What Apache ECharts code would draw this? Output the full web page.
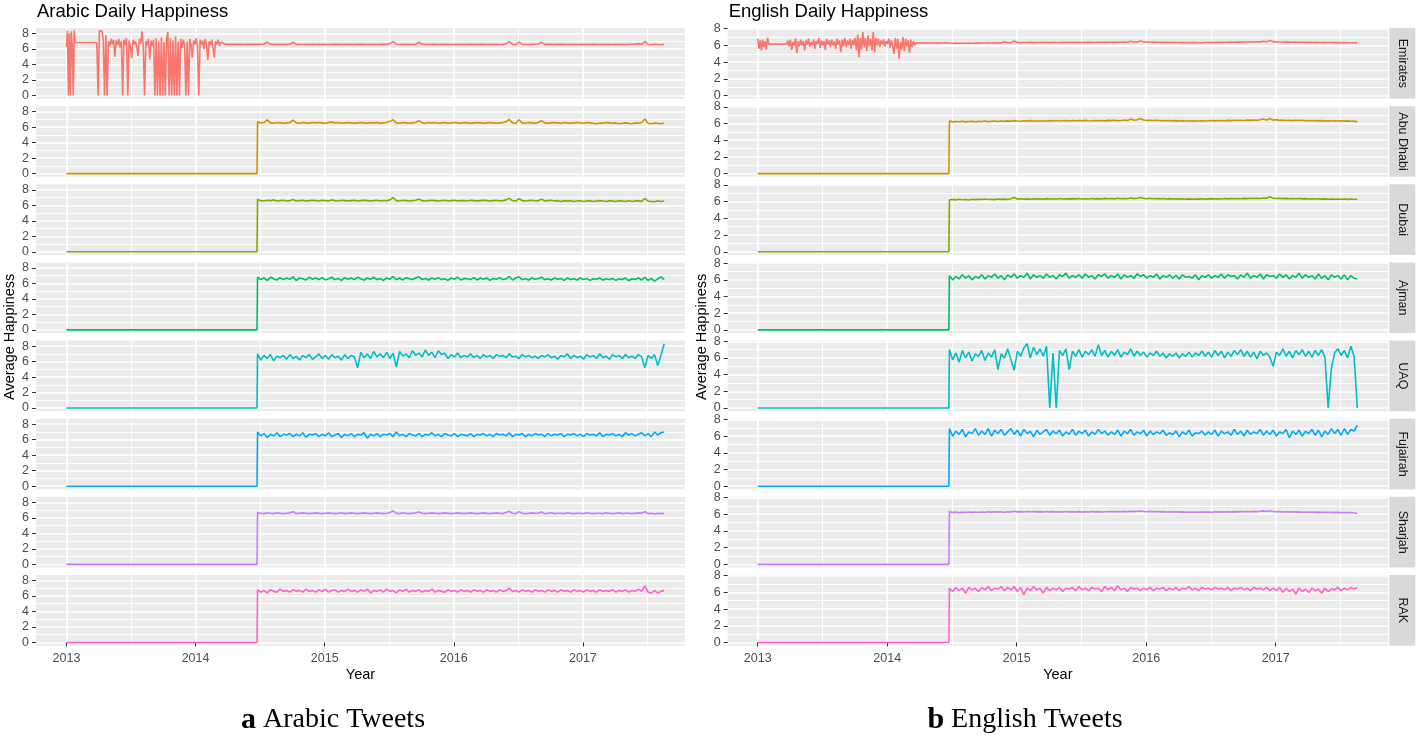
<!DOCTYPE html>
<html><head><meta charset="utf-8">
<script src="https://cdn.jsdelivr.net/npm/echarts@6/dist/echarts.min.js"></script>
<style>html,body{margin:0;padding:0;background:#fff}#c{width:1419px;height:737px}</style>
</head><body><div id="c"></div>
<script>
// ---------- categories / ticks ----------
const regions = ['Emirates','Abu Dhabi','Dubai','Ajman','UAQ','Fujairah','Sharjah','RAK'];
const colors = ['#F8766D','#CD9600','#7CAE00','#00BE67','#00BFC4','#00A9FF','#C77CFF','#FF61CC'];
const yearTicks = [2013,2014,2015,2016,2017];
const halfYearTicks = [2013.5,2014.5,2015.5,2016.5,2017.5];
const yTicks = [0,2,4,6,8];
const yMinorTicks = [1,3,5,7];
const panelTitles = ['Arabic Daily Happiness','English Daily Happiness'];
const captions = [['a','Arabic Tweets'],['b','English Tweets']];

// ---------- time sampling ----------
const firstDay = 2013.0;
const zeroEnd = 2014.476;
const postStart = 2014.48;
const postStep = 0.025;

// ---------- Arabic ----------
const emirArEarlyA = [6.3,8.4,0,8.0,0,8.3,6.2,0,8.4,6.85];
const emirArFlat = [6.85];
const emirArEarlyB = [0,8.4,8.4,8.3,7.2,0,7.8,0,7.0,6.4,
7.3,6.6,7.2,5.0,7.1,6.5,7.3,6.2,7.0,0,
7.2,6.5,7.4,0,7.1,6.3,4.8,7.2,6.6,7.0,
6.2,5.1,7.3,6.7,8.3,6.4,0,7.0,6.5,7.3,
4.7,7.1,6.4,7.2,0,7.4,0,7.0,0,7.5,
0,6.9,0,7.2,8.2,0,7.4,0,7.1,0,
7.6,0,7.0,0,7.3,6.1,7.2,6.6,0,7.0,
0,7.3,6.5,4.9,7.1,6.6,7.4,6.3,0,7.2,
6.5,7.1,6.0,7.3,6.6,4.6,7.0,6.5,7.2,6.2,
4.9,7.0,6.6,7.2,6.4,6.9,6.7];
const emirArPost = [6.62,6.6,6.62,6.6,6.62,6.6,6.58,6.6,6.62,6.6,
6.62,6.6,6.65,6.9,6.6,6.62,6.6,6.58,6.62,6.6,
6.62,6.88,6.6,6.62,6.58,6.6,6.62,6.6,6.58,6.62,
6.6,6.62,6.58,6.6,6.62,6.6,6.58,6.6,6.62,6.6,
6.58,6.6,6.62,6.6,6.58,6.62,6.6,6.58,6.6,6.62,
6.6,6.72,6.95,6.62,6.58,6.6,6.62,6.6,6.58,6.6,
6.88,6.62,6.6,6.58,6.62,6.6,6.58,6.6,6.62,6.6,
6.58,6.6,6.62,6.6,6.58,6.6,6.62,6.6,6.58,6.62,
6.6,6.58,6.6,6.62,6.6,6.58,6.6,6.7,6.95,6.6,
6.58,6.9,6.6,6.62,6.58,6.6,6.62,6.65,6.88,6.6,
6.62,6.6,6.58,6.6,6.62,6.6,6.58,6.62,6.6,6.58,
6.6,6.62,6.58,6.6,6.62,6.6,6.58,6.6,6.62,6.6,
6.58,6.6,6.62,6.6,6.58,6.6,6.62,6.65,6.7,6.6,
6.98,6.58,6.56,6.6,6.58,6.56,6.6];
const abuArPost = [6.7,6.55,6.6,6.95,6.55,6.5,6.6,6.55,6.5,6.55,
6.6,6.9,6.55,6.5,6.6,6.55,6.5,6.6,6.55,6.6,
6.55,6.5,6.6,6.65,6.55,6.6,6.5,6.55,6.6,6.55,
6.5,6.55,6.6,6.55,6.5,6.6,6.55,6.6,6.5,6.55,
6.6,6.75,6.95,6.55,6.5,6.6,6.55,6.5,6.55,6.6,
6.85,6.55,6.5,6.6,6.55,6.6,6.5,6.55,6.6,6.5,
6.55,6.6,6.55,6.5,6.6,6.55,6.5,6.55,6.6,6.55,
6.5,6.55,6.6,6.55,6.5,6.55,6.6,6.7,7.0,6.55,
6.5,6.95,6.55,6.5,6.6,6.55,6.5,6.6,6.85,6.55,
6.5,6.55,6.6,6.55,6.5,6.6,6.55,6.5,6.55,6.6,
6.55,6.5,6.6,6.55,6.5,6.45,6.55,6.5,6.6,6.55,
6.5,6.55,6.45,6.5,6.55,6.5,6.45,6.55,6.5,6.6,
7.05,6.5,6.45,6.55,6.5,6.45,6.55];
const dubArPost = [6.75,6.6,6.55,6.65,6.6,6.7,6.55,6.6,6.65,6.55,
6.6,6.75,6.55,6.6,6.65,6.55,6.6,6.65,6.6,6.55,
6.65,6.6,6.55,6.7,6.6,6.55,6.65,6.6,6.55,6.6,
6.65,6.55,6.6,6.65,6.6,6.55,6.6,6.65,6.55,6.6,
6.6,6.7,7.0,6.6,6.55,6.65,6.6,6.55,6.6,6.65,
6.8,6.6,6.55,6.6,6.65,6.6,6.55,6.6,6.65,6.55,
6.6,6.65,6.55,6.6,6.6,6.55,6.65,6.6,6.55,6.6,
6.65,6.6,6.55,6.6,6.65,6.55,6.6,6.7,6.9,6.6,
6.55,6.85,6.6,6.55,6.6,6.65,6.55,6.6,6.8,6.55,
6.6,6.65,6.55,6.6,6.5,6.6,6.55,6.6,6.5,6.55,
6.6,6.5,6.55,6.6,6.5,6.55,6.6,6.55,6.5,6.6,
6.55,6.5,6.6,6.55,6.5,6.6,6.5,6.55,6.6,6.5,
6.9,6.55,6.5,6.45,6.6,6.5,6.55];
const ajmArPost = [6.8,6.5,6.7,6.4,6.8,6.6,6.45,6.75,6.5,6.7,
6.55,6.85,6.4,6.7,6.6,6.45,6.8,6.55,6.7,6.5,
6.75,6.45,6.6,6.8,6.5,6.65,6.4,6.75,6.55,6.7,
6.5,6.8,6.6,6.45,6.7,6.55,6.8,6.5,6.65,6.4,
6.7,6.55,6.9,6.5,6.7,6.45,6.75,6.6,6.5,6.7,
6.85,6.5,6.65,6.45,6.7,6.55,6.75,6.5,6.6,6.4,
6.7,6.55,6.8,6.45,6.65,6.6,6.5,6.75,6.45,6.7,
6.55,6.7,6.4,6.65,6.55,6.75,6.5,6.6,6.9,6.45,
6.7,6.85,6.5,6.6,6.45,6.7,6.55,6.65,6.8,6.5,
6.6,6.45,6.7,6.55,6.65,6.4,6.7,6.5,6.6,6.45,
6.7,6.5,6.65,6.4,6.6,6.55,6.7,6.45,6.6,6.5,
6.65,6.4,6.6,6.5,6.7,6.35,6.6,6.5,6.7,6.45,
6.8,6.4,6.65,6.3,6.6,6.85,6.5];
const uaqArPost = [7.0,6.2,6.8,6.4,6.9,6.1,6.7,6.5,6.8,6.3,
6.9,6.4,6.7,6.2,6.8,6.5,6.9,6.3,6.6,7.0,
6.4,6.8,6.3,6.9,6.5,6.7,6.2,6.9,6.4,6.8,
6.6,5.2,7.2,6.5,7.0,6.4,7.3,6.6,7.0,6.5,
7.2,6.4,7.1,5.3,7.3,6.7,7.0,6.5,7.4,6.8,
7.1,6.6,7.5,6.8,7.2,6.5,7.4,6.9,7.1,6.4,
6.9,6.6,7.1,6.5,6.8,6.6,7.0,6.5,6.8,6.4,
6.9,6.6,6.8,6.4,6.9,6.7,6.8,6.5,7.0,6.6,
6.7,6.4,6.9,6.6,6.8,6.5,6.7,6.4,6.8,6.6,
6.9,6.5,6.7,6.3,6.8,6.6,7.0,6.4,6.8,6.5,
6.7,6.3,6.9,6.6,6.8,6.4,7.0,6.5,6.7,6.3,
6.9,6.6,6.8,6.4,6.9,6.5,6.7,6.4,6.9,6.6,
5.2,6.8,6.4,6.9,5.5,6.8,8.3];
const fujArPost = [7.0,6.5,6.8,6.3,6.7,6.5,6.9,6.4,6.7,6.6,
6.8,6.4,6.7,6.5,6.9,6.3,6.7,6.6,6.8,6.4,
6.7,6.5,6.9,6.4,6.6,6.8,6.3,6.7,6.5,6.8,
6.4,6.7,6.6,6.9,6.2,6.7,6.5,6.8,6.4,6.7,
6.6,6.8,6.4,7.0,6.5,6.7,6.4,6.8,6.6,6.5,
6.8,6.4,6.7,6.6,6.9,6.5,6.7,6.4,6.8,6.6,
6.5,6.8,6.4,6.7,6.6,6.5,6.8,6.4,6.7,6.6,
6.8,6.5,6.7,6.4,6.8,6.6,6.7,6.5,6.9,6.4,
6.7,6.6,6.8,6.4,6.7,6.5,6.8,6.6,6.7,6.4,
6.8,6.5,6.7,6.6,6.8,6.4,6.7,6.6,6.8,6.5,
6.7,6.4,6.8,6.6,6.7,6.5,6.9,6.4,6.7,6.6,
6.8,6.5,6.7,6.4,6.9,6.6,6.8,6.5,6.7,6.9,
6.5,6.8,6.4,7.0,6.6,6.9,7.0];
const shjArPost = [6.7,6.6,6.55,6.65,6.6,6.55,6.65,6.6,6.55,6.6,
6.65,6.8,6.55,6.6,6.65,6.6,6.55,6.6,6.65,6.6,
6.55,6.6,6.65,6.6,6.55,6.6,6.65,6.55,6.6,6.65,
6.6,6.55,6.6,6.65,6.6,6.55,6.6,6.65,6.6,6.55,
6.6,6.7,6.9,6.6,6.55,6.65,6.6,6.55,6.6,6.65,
6.75,6.6,6.55,6.6,6.65,6.6,6.55,6.6,6.65,6.6,
6.55,6.6,6.65,6.6,6.55,6.6,6.65,6.6,6.55,6.6,
6.65,6.6,6.55,6.6,6.65,6.6,6.55,6.7,6.85,6.6,
6.55,6.8,6.6,6.55,6.6,6.65,6.6,6.6,6.75,6.55,
6.6,6.65,6.55,6.6,6.6,6.55,6.65,6.6,6.55,6.6,
6.6,6.55,6.65,6.6,6.55,6.6,6.6,6.55,6.65,6.6,
6.55,6.6,6.65,6.55,6.6,6.6,6.55,6.6,6.65,6.6,
6.8,6.55,6.6,6.5,6.6,6.55,6.6];
const rakArPost = [6.8,6.5,6.7,6.4,6.8,6.6,6.5,6.9,6.6,6.7,
6.5,6.8,6.6,6.7,6.5,6.9,6.6,6.7,6.5,6.8,
6.6,6.9,6.5,6.7,6.8,6.5,6.7,6.6,6.9,6.6,
6.7,6.5,6.8,6.6,6.9,6.4,6.7,6.6,6.8,6.5,
6.9,6.6,6.7,6.4,6.8,6.6,6.9,6.5,6.7,6.6,
6.8,6.5,6.7,6.6,6.9,6.5,6.7,6.6,6.5,6.8,
6.6,6.7,6.5,6.8,6.6,6.7,6.5,6.8,6.6,6.7,
6.5,6.8,6.6,6.7,6.5,6.8,6.6,6.7,7.0,6.6,
6.7,6.5,6.8,6.6,6.7,6.5,6.8,6.6,6.7,6.5,
6.8,6.6,6.7,6.5,6.8,6.6,6.7,6.5,6.8,6.6,
6.7,6.5,6.8,6.6,6.7,6.5,6.8,6.6,6.7,6.6,
6.8,6.5,6.7,6.6,6.8,6.5,6.7,6.6,6.9,6.6,
7.3,6.5,6.4,6.7,6.4,6.6,6.7];

// ---------- English ----------
const emirEnEarlyA = [6.8,5.6,6.6,5.4,6.7,5.8,6.5,5.5,6.9,6.15];
const emirEnFlat = [6.15];
const emirEnEarlyB = [6.6,5.9,6.7,5.5,6.4,6.0,6.8,5.1,6.5,5.9,
6.7,6.0,6.5,5.4,6.6,6.1,6.8,5.8,6.4,6.0,
6.7,5.6,6.5,6.2,6.9,5.7,6.6,6.0,6.5,5.5,
6.8,6.1,6.6,5.8,6.7,6.0,6.5,5.6,6.8,6.1,
6.6,5.2,6.7,5.9,6.9,5.8,6.6,6.0,6.8,5.6,
6.7,6.0,6.9,5.4,7.3,4.6,6.9,5.5,7.6,5.8,
6.9,5.3,7.2,5.9,6.8,5.4,7.6,5.2,6.9,6.0,
6.8,5.8,6.6,6.1,6.7,5.9,6.5,6.2,6.8,5.7,
6.6,5.9,5.0,6.9,5.6,6.8,4.4,6.4,5.5,7.0,
5.3,6.8,5.9,6.6,5.1,6.7,5.8,6.5,6.0,6.3];
const emirEnPost = [6.28,6.3,6.27,6.3,6.28,6.32,6.27,6.3,6.28,6.3,
6.28,6.25,6.27,6.24,6.26,6.25,6.27,6.26,6.28,6.27,
6.29,6.28,6.3,6.29,6.31,6.3,6.32,6.45,6.33,6.31,
6.52,6.34,6.33,6.35,6.34,6.36,6.33,6.35,6.34,6.36,
6.35,6.33,6.36,6.34,6.35,6.37,6.35,6.36,6.34,6.37,
6.36,6.35,6.38,6.36,6.37,6.35,6.38,6.37,6.36,6.38,
6.37,6.36,6.38,6.37,6.39,6.38,6.5,6.4,6.39,6.55,
6.42,6.4,6.38,6.39,6.37,6.38,6.36,6.37,6.35,6.36,
6.34,6.35,6.33,6.34,6.32,6.33,6.34,6.32,6.33,6.35,
6.34,6.36,6.35,6.37,6.36,6.38,6.37,6.39,6.38,6.4,
6.39,6.41,6.4,6.42,6.41,6.43,6.42,6.5,6.44,6.58,
6.45,6.42,6.4,6.41,6.39,6.4,6.38,6.39,6.37,6.38,
6.36,6.37,6.35,6.36,6.34,6.35,6.33,6.34,6.35,6.33,
6.34,6.32,6.33,6.31,6.32,6.31,6.3];
const abuEnPost = [6.3,6.2,6.25,6.22,6.27,6.2,6.24,6.28,6.22,6.26,
6.25,6.3,6.23,6.27,6.29,6.24,6.3,6.27,6.32,6.28,
6.35,6.3,6.27,6.33,6.29,6.35,6.3,6.32,6.28,6.34,
6.3,6.35,6.31,6.36,6.3,6.33,6.37,6.31,6.35,6.33,
6.36,6.32,6.38,6.34,6.31,6.37,6.33,6.36,6.32,6.38,
6.35,6.39,6.34,6.37,6.42,6.36,6.55,6.4,6.45,6.6,
6.42,6.38,6.4,6.36,6.39,6.34,6.37,6.33,6.36,6.32,
6.35,6.31,6.34,6.3,6.33,6.29,6.32,6.3,6.34,6.31,
6.33,6.36,6.32,6.35,6.37,6.33,6.38,6.35,6.39,6.36,
6.4,6.37,6.41,6.38,6.42,6.39,6.45,6.55,6.43,6.6,
6.42,6.45,6.38,6.41,6.36,6.39,6.35,6.4,6.36,6.38,
6.34,6.37,6.33,6.36,6.32,6.35,6.3,6.34,6.31,6.33,
6.3,6.34,6.29,6.32,6.28,6.31,6.2];
const dubEnPost = [6.2,6.28,6.22,6.3,6.24,6.27,6.21,6.29,6.25,6.3,
6.26,6.32,6.27,6.3,6.25,6.33,6.28,6.31,6.27,6.35,
6.5,6.32,6.36,6.3,6.34,6.29,6.36,6.31,6.35,6.3,
6.37,6.32,6.35,6.3,6.38,6.33,6.36,6.31,6.37,6.34,
6.38,6.33,6.36,6.32,6.39,6.34,6.37,6.33,6.4,6.35,
6.38,6.34,6.41,6.36,6.39,6.35,6.45,6.37,6.42,6.5,
6.4,6.36,6.41,6.35,6.39,6.34,6.38,6.33,6.37,6.32,
6.36,6.31,6.35,6.3,6.34,6.29,6.33,6.31,6.35,6.3,
6.34,6.37,6.32,6.36,6.33,6.38,6.34,6.37,6.35,6.39,
6.36,6.4,6.37,6.41,6.38,6.42,6.39,6.45,6.4,6.58,
6.41,6.38,6.42,6.37,6.4,6.36,6.39,6.35,6.38,6.34,
6.37,6.33,6.36,6.32,6.35,6.31,6.34,6.3,6.33,6.29,
6.32,6.3,6.33,6.28,6.31,6.29,6.3];
const ajmEnPost = [6.5,6.0,6.4,6.1,6.6,6.2,6.5,6.0,6.4,6.2,
6.6,6.1,6.5,6.3,6.7,6.2,6.5,6.0,6.6,6.3,
6.7,6.2,6.5,6.3,6.8,6.1,6.6,6.3,6.5,6.2,
6.7,6.3,6.5,6.1,6.6,6.4,6.8,6.2,6.5,6.3,
6.6,6.2,6.7,6.3,6.5,6.1,6.6,6.4,6.7,6.2,
6.5,6.3,6.7,6.1,6.6,6.3,6.5,6.2,6.7,6.4,
6.6,6.2,6.5,6.3,6.7,6.1,6.5,6.3,6.6,6.2,
6.5,6.1,6.6,6.3,6.4,6.2,6.6,6.0,6.5,6.3,
6.6,6.2,6.5,6.3,6.7,6.2,6.6,6.4,6.5,6.1,
6.6,6.3,6.8,6.2,6.5,6.3,6.7,6.1,6.6,6.4,
6.5,6.2,6.7,6.3,6.6,6.1,6.5,6.3,6.8,6.2,
6.6,6.3,6.5,6.1,6.7,6.2,6.5,6.0,6.6,6.3,
6.5,6.1,6.6,6.0,6.5,6.2,6.1];
const uaqEnPost = [7.0,5.8,6.6,5.5,6.9,6.0,6.7,5.6,6.5,6.2,
6.9,5.7,6.6,6.1,7.0,4.6,6.5,6.0,7.1,5.8,
4.5,6.8,6.2,7.2,7.7,6.0,7.3,6.4,7.1,6.2,
7.4,0,6.6,0,6.9,6.3,7.1,4.6,6.8,6.2,
7.0,6.1,6.8,6.4,7.0,6.2,7.6,6.3,6.9,6.1,
6.8,6.3,7.0,6.1,6.7,6.4,7.1,6.2,6.8,6.3,
6.7,6.1,6.6,6.3,6.8,6.2,6.6,6.0,6.5,6.2,
6.6,6.0,6.5,6.2,6.7,6.1,6.6,6.3,6.8,6.2,
6.7,6.1,6.9,6.3,6.8,6.0,6.7,6.2,6.9,6.4,
7.0,6.2,6.8,6.1,6.7,5.9,6.8,6.3,6.6,6.1,
5.0,6.7,6.3,7.1,6.2,6.8,6.0,6.9,6.4,7.0,
6.2,6.8,6.1,6.9,6.3,7.0,6.1,0,4.8,6.6,
7.1,6.3,6.9,6.0,7.4,6.2,0];
const fujEnPost = [6.9,6.0,6.6,6.2,6.8,5.9,6.5,6.3,6.9,6.1,
6.6,6.2,6.9,6.0,6.7,6.3,6.8,6.1,6.5,6.9,
6.2,6.7,6.0,6.8,6.3,6.6,5.9,6.7,6.2,6.5,
6.8,6.1,6.6,6.3,6.7,6.0,6.5,6.2,6.8,6.1,
6.6,6.3,6.7,6.0,6.5,6.2,6.8,6.3,6.6,6.1,
6.5,6.2,6.7,6.0,6.6,6.3,6.8,6.1,6.5,6.3,
6.7,6.0,6.6,6.2,6.5,6.3,6.7,6.1,6.4,6.2,
6.6,5.9,6.5,6.2,6.7,6.0,6.4,6.3,6.6,6.1,
6.5,6.2,6.7,6.0,6.6,6.3,6.5,6.1,6.8,6.2,
6.6,6.0,6.7,6.2,6.5,6.3,6.8,6.1,6.6,6.2,
6.7,6.0,6.5,6.3,6.8,5.8,6.6,6.2,6.7,6.0,
6.6,6.3,6.8,6.1,6.7,5.9,6.6,6.2,6.9,6.3,
6.8,6.1,6.9,6.2,6.8,6.6,7.3];
const shjEnPost = [6.3,6.2,6.25,6.18,6.24,6.2,6.27,6.22,6.26,6.21,
6.27,6.23,6.29,6.25,6.3,6.26,6.28,6.24,6.3,6.27,
6.35,6.28,6.31,6.27,6.33,6.29,6.32,6.28,6.31,6.27,
6.32,6.28,6.31,6.26,6.3,6.27,6.32,6.28,6.3,6.26,
6.31,6.27,6.3,6.26,6.32,6.28,6.31,6.27,6.3,6.29,
6.32,6.28,6.33,6.29,6.34,6.3,6.36,6.31,6.35,6.38,
6.33,6.3,6.34,6.29,6.32,6.28,6.31,6.27,6.3,6.26,
6.29,6.25,6.28,6.24,6.27,6.23,6.26,6.24,6.28,6.25,
6.27,6.24,6.29,6.25,6.28,6.26,6.3,6.27,6.31,6.28,
6.32,6.29,6.33,6.3,6.34,6.31,6.35,6.4,6.33,6.42,
6.32,6.29,6.31,6.27,6.3,6.26,6.29,6.25,6.28,6.24,
6.27,6.23,6.26,6.22,6.25,6.21,6.24,6.2,6.23,6.19,
6.22,6.18,6.21,6.17,6.2,6.15,6.1];
const rakEnPost = [6.5,6.1,6.6,6.2,6.5,5.9,6.6,6.3,6.5,6.1,
6.6,6.3,6.7,6.2,6.5,6.4,6.7,6.2,6.6,6.3,
6.7,6.1,6.6,5.7,6.5,6.2,6.7,6.3,6.5,5.9,
6.6,6.2,6.5,6.3,6.6,6.1,6.5,6.4,6.6,6.2,
6.7,6.3,6.5,6.2,6.6,6.4,6.5,6.1,6.7,6.3,
6.6,6.2,6.8,6.3,6.5,6.1,6.6,6.4,6.5,6.2,
6.5,6.3,6.6,6.2,6.5,6.4,6.6,6.2,6.5,6.3,
6.6,6.2,6.5,6.4,6.7,6.3,6.5,6.2,6.6,6.4,
6.5,6.3,6.6,6.4,6.5,6.3,6.6,6.2,6.5,6.4,
6.6,6.3,6.5,6.2,6.6,6.4,6.5,6.3,6.6,6.2,
6.5,6.2,6.6,6.0,6.5,6.1,6.4,5.8,6.5,6.1,
6.4,6.0,6.5,6.2,6.4,5.9,6.5,6.1,6.4,6.3,
6.6,6.2,6.5,6.3,6.6,6.4,6.6];

// ---------- series assembly (segments: [startYear, stepYears, values]) ----------
const zeroSegs = [[firstDay, 0, [0]], [zeroEnd, 0, [0]]];
const arabicSegs = [
  [[firstDay, 0.0075, emirArEarlyA], [2013.235, 0, emirArFlat], [2013.245, 0.01, emirArEarlyB], [2014.23, postStep, emirArPost]],
  zeroSegs.concat([[postStart, postStep, abuArPost]]),
  zeroSegs.concat([[postStart, postStep, dubArPost]]),
  zeroSegs.concat([[postStart, postStep, ajmArPost]]),
  zeroSegs.concat([[postStart, postStep, uaqArPost]]),
  zeroSegs.concat([[postStart, postStep, fujArPost]]),
  zeroSegs.concat([[postStart, postStep, shjArPost]]),
  zeroSegs.concat([[postStart, postStep, rakArPost]])
];
const englishSegs = [
  [[firstDay, 0.0095, emirEnEarlyA], [2013.224, 0, emirEnFlat], [2013.232, 0.01, emirEnEarlyB], [2014.23, postStep, emirEnPost]],
  zeroSegs.concat([[postStart, postStep, abuEnPost]]),
  zeroSegs.concat([[postStart, postStep, dubEnPost]]),
  zeroSegs.concat([[postStart, postStep, ajmEnPost]]),
  zeroSegs.concat([[postStart, postStep, uaqEnPost]]),
  zeroSegs.concat([[postStart, postStep, fujEnPost]]),
  zeroSegs.concat([[postStart, postStep, shjEnPost]]),
  zeroSegs.concat([[postStart, postStep, rakEnPost]])
];
function buildData(segs) {
  const out = [];
  segs.forEach(([t0, dt, vals]) => vals.forEach((v, i) => out.push([+(t0 + dt * i).toFixed(4), v])));
  return out;
}

// ---------- layout ----------
const FONT = '"Liberation Sans", Arial, sans-serif';
const panels = [
  {left: 36, width: 649, xMin: 2012.764, xMax: 2017.791, yMin: -0.415, yMax: 8.715, segs: arabicSegs, strip: false},
  {left: 727.7, width: 660.3, xMin: 2012.768, xMax: 2017.867, yMin: -0.385, yMax: 8.085, segs: englishSegs, strip: true}
];
const facetTop0 = 28, facetPitch = 78.14, facetH = 70.7;

const grids = [], xAxes = [], yAxes = [], series = [], graphics = [];
panels.forEach((p, pi) => {
  regions.forEach((reg, f) => {
    const g = grids.length;
    const top = facetTop0 + facetPitch * f;
    const bottom = f === regions.length - 1;
    grids.push({left: p.left, width: p.width, top: top, height: facetH, show: true,
      backgroundColor: '#EBEBEB', borderWidth: 0, containLabel: false});
    xAxes.push({gridIndex: g, type: 'value', min: p.xMin, max: p.xMax, position: 'bottom',
      axisLine: {show: false},
      axisTick: {show: bottom, customValues: yearTicks, length: 4, lineStyle: {color: '#333333', width: 1}},
      axisLabel: {show: bottom, customValues: yearTicks, color: '#4D4D4D', fontSize: 12.5, fontFamily: FONT, margin: 6,
        formatter: v => String(Math.round(v))},
      splitLine: {show: true, lineStyle: {color: '#FFFFFF', width: 1.7}}});
    xAxes.push({gridIndex: g, type: 'value', min: p.xMin, max: p.xMax, position: 'top',
      axisLine: {show: false},
      axisTick: {show: false, customValues: halfYearTicks},
      axisLabel: {show: false, customValues: halfYearTicks},
      splitLine: {show: true, lineStyle: {color: '#FFFFFF', width: 0.9}}});
    yAxes.push({gridIndex: g, type: 'value', min: p.yMin, max: p.yMax, position: 'left',
      axisLine: {show: false},
      axisTick: {show: true, customValues: yTicks, length: 4, lineStyle: {color: '#333333', width: 1}},
      axisLabel: {show: true, customValues: yTicks, color: '#4D4D4D', fontSize: 12.5, fontFamily: FONT, margin: 7},
      splitLine: {show: true, lineStyle: {color: '#FFFFFF', width: 1.7}}});
    yAxes.push({gridIndex: g, type: 'value', min: p.yMin, max: p.yMax, position: 'right',
      axisLine: {show: false},
      axisTick: {show: false, customValues: yMinorTicks},
      axisLabel: {show: false, customValues: yMinorTicks},
      splitLine: {show: true, lineStyle: {color: '#FFFFFF', width: 0.9}}});
    series.push({type: 'line', name: reg, xAxisIndex: 2 * g, yAxisIndex: 2 * g,
      data: buildData(p.segs[f]), showSymbol: false, symbol: 'none', animation: false,
      lineStyle: {color: colors[f], width: 1.6}, itemStyle: {color: colors[f]}, z: 5});
    if (p.strip) {
      const sx = p.left + p.width + 1.3, sw = 26;
      graphics.push({type: 'rect', shape: {x: sx, y: top, width: sw, height: facetH},
        style: {fill: '#D9D9D9'}, silent: true});
      graphics.push({type: 'text', x: sx + sw / 2, y: top + facetH / 2, rotation: -Math.PI / 2,
        style: {text: reg, font: '12.5px ' + FONT, fill: '#1A1A1A', align: 'center', verticalAlign: 'middle'}, silent: true});
    }
  });
  const lastBottom = facetTop0 + facetPitch * (regions.length - 1) + facetH;
  graphics.push({type: 'text', x: p.left + 1, y: 12,
    style: {text: panelTitles[pi], font: '18.5px ' + FONT, fill: '#000000', align: 'left', verticalAlign: 'middle'}});
  graphics.push({type: 'text', x: p.left + p.width / 2, y: 675,
    style: {text: 'Year', font: '14.5px ' + FONT, fill: '#000000', align: 'center', verticalAlign: 'middle'}});
  graphics.push({type: 'text', x: p.left - 26, y: (facetTop0 + lastBottom) / 2, rotation: Math.PI / 2,
    style: {text: 'Average Happiness', font: '14.5px ' + FONT, fill: '#000000', align: 'center', verticalAlign: 'middle'}});
  graphics.push({type: 'text', x: pi === 0 ? 333 : 1025, y: 720,
    style: {text: '{b|' + captions[pi][0] + '} ' + captions[pi][1], font: '28px "Liberation Serif", "DejaVu Serif", serif',
      fill: '#000000', align: 'center', verticalAlign: 'middle',
      rich: {b: {fontWeight: 'bold', fontSize: 30, fontFamily: '"Liberation Serif", serif'}}}});
});

const chart = echarts.init(document.getElementById('c'), null, {renderer: 'canvas'});
chart.setOption({
  animation: false,
  backgroundColor: '#FFFFFF',
  grid: grids, xAxis: xAxes, yAxis: yAxes, series: series,
  graphic: {elements: graphics}
});
</script></body></html>
